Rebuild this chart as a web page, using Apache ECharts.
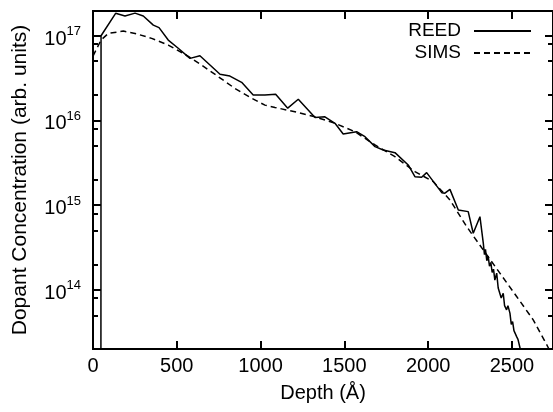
<!DOCTYPE html>
<html>
<head>
<meta charset="utf-8">
<script src="https://cdn.jsdelivr.net/npm/echarts@6/dist/echarts.min.js"></script>
<style>html,body{margin:0;padding:0;background:#fff}#c{width:553px;height:412px}</style>
</head>
<body>
<div id="c"></div>
<script>
// Depth (Å) vs dopant concentration (arb. units)
const xTicks = [0, 500, 1000, 1500, 2000, 2500];
const yMajorTicks = [1e14, 1e15, 1e16, 1e17];
const yMinorTicks = [5e13, 8e13, 2e14, 5e14, 8e14, 2e15, 5e15, 8e15, 2e16, 5e16, 8e16];
const xMin = 0, xMax = 2745, xStep = 500;
const yMin = 2e13, yMax = 1.95e17;

const reedDepth = [47, 48, 135, 191, 251, 300, 360, 394, 449, 505, 579, 638, 698, 758, 817, 887, 956, 1026, 1090, 1162, 1225, 1325, 1384, 1444, 1493, 1573, 1623, 1683, 1732, 1802, 1881, 1921, 1961, 1991, 2081, 2100, 2130, 2180, 2239, 2269, 2309, 2329, 2336, 2342, 2350, 2358, 2366, 2374, 2382, 2390, 2398, 2409, 2418, 2428, 2436, 2448, 2456, 2468, 2476, 2488, 2496, 2504, 2512, 2520, 2528, 2536, 2548, 2555];
const reedConc = [1e12, 9.95e16, 1.83e17, 1.70e17, 1.84e17, 1.70e17, 1.33e17, 1.24e17, 8.85e16, 7.18e16, 5.38e16, 5.78e16, 4.49e16, 3.49e16, 3.33e16, 2.81e16, 1.99e16, 1.99e16, 2.03e16, 1.39e16, 1.77e16, 1.08e16, 1.10e16, 9.22e15, 6.89e15, 7.34e15, 6.41e15, 4.89e15, 4.47e15, 4.15e15, 2.97e15, 2.16e15, 2.13e15, 2.41e15, 1.40e15, 1.38e15, 1.53e15, 8.75e14, 8.36e14, 4.65e14, 7.29e14, 3.55e14, 2.6e14, 3.0e14, 2.2e14, 2.5e14, 1.9e14, 2.1e14, 1.6e14, 1.75e14, 1.3e14, 1.57e14, 1.05e14, 1.09e14, 8.0e13, 9.1e13, 6.5e13, 5.8e13, 6.5e13, 5.3e13, 3.9e13, 4.2e13, 3.3e13, 3.4e13, 2.8e13, 2.6e13, 2.07e13, 1.5e13];

const simsDepth = [0, 48, 91, 181, 251, 350, 449, 549, 648, 748, 847, 947, 1026, 1086, 1205, 1325, 1444, 1563, 1683, 1802, 1921, 2030, 2130, 2230, 2329, 2428, 2528, 2627, 2717, 2745];
const simsConc = [5.73e16, 8.85e16, 1.06e17, 1.13e17, 1.06e17, 9.27e16, 7.73e16, 6.0e16, 4.49e16, 3.27e16, 2.38e16, 1.82e16, 1.51e16, 1.42e16, 1.26e16, 1.10e16, 9.22e15, 7.34e15, 5.12e15, 3.72e15, 2.48e15, 1.89e15, 1.15e15, 5.56e14, 2.95e14, 1.57e14, 8.32e13, 4.42e13, 2.07e13, 1.6e13];

const FONT = 'Liberation Sans, Arial, Helvetica, sans-serif';
const zip = (a, b) => a.map((v, i) => [v, b[i]]);

function logAxis(position, ticks, len, withLabels) {
  return {
    type: 'log', position: position, min: yMin, max: yMax, logBase: 10,
    axisLine: { show: true, lineStyle: { color: '#000', width: 2 } },
    axisTick: { show: true, inside: true, length: len, lineStyle: { color: '#000', width: 2 }, customValues: ticks },
    splitLine: { show: false },
    axisLabel: withLabels ? {
      show: true, margin: 12, customValues: ticks, color: '#000',
      formatter: function (v) {
        const e = Math.round(Math.log10(v));
        return '{b|10}{s|' + e + '}';
      },
      rich: {
        b: { fontSize: 20, fontFamily: FONT, color: '#000', padding: [7, 0, 0, 0] },
        s: { fontSize: 13, fontFamily: FONT, color: '#000', padding: [0, 0, 8, 0] }
      }
    } : { show: false }
  };
}

const chart = echarts.init(document.getElementById('c'), null, { renderer: 'canvas' });
chart.setOption({
  animation: false,
  backgroundColor: '#fff',
  grid: { left: 93, right: 0, top: 11, bottom: 63, containLabel: false },
  legend: {
    data: ['REED', 'SIMS'],
    orient: 'vertical', align: 'right', right: 16, top: 16,
    itemWidth: 57, itemHeight: 14, itemGap: 2,
    itemStyle: { opacity: 0, color: 'rgba(0,0,0,0)', borderWidth: 0 },
    textStyle: { fontSize: 19, fontFamily: FONT, color: '#000', padding: [0, 8, 0, 0], lineHeight: 20 },
    selectedMode: false
  },
  xAxis: [
    {
      type: 'value', position: 'bottom', min: xMin, max: xMax, interval: xStep,
      name: 'Depth (Å)', nameLocation: 'middle', nameGap: 34,
      nameTextStyle: { fontSize: 20, fontFamily: FONT, color: '#000' },
      axisLine: { show: true, onZero: false, lineStyle: { color: '#000', width: 2 } },
      axisTick: { show: true, inside: true, length: 8, lineStyle: { color: '#000', width: 2 } },
      splitLine: { show: false },
      axisLabel: { show: true, margin: 7, fontSize: 20, fontFamily: FONT, color: '#000', showMaxLabel: false,
        formatter: v => (xTicks.indexOf(v) >= 0 ? String(v) : '') }
    },
    {
      type: 'value', position: 'top', min: xMin, max: xMax, interval: xStep,
      axisLine: { show: true, onZero: false, lineStyle: { color: '#000', width: 2 } },
      axisTick: { show: true, inside: true, length: 8, lineStyle: { color: '#000', width: 2 } },
      splitLine: { show: false }, axisLabel: { show: false }
    }
  ],
  yAxis: [
    Object.assign(logAxis('left', yMajorTicks, 8, true), {
      name: 'Dopant Concentration (arb. units)', nameLocation: 'middle', nameGap: 62,
      nameTextStyle: { fontSize: 21, fontFamily: FONT, color: '#000' }
    }),
    logAxis('left', yMinorTicks, 5, false),
    logAxis('right', yMajorTicks, 8, false),
    logAxis('right', yMinorTicks, 5, false)
  ],
  series: [
    {
      name: 'REED', type: 'line', data: zip(reedDepth, reedConc), xAxisIndex: 0, yAxisIndex: 0,
      symbol: 'none', showSymbol: false, clip: true,
      lineStyle: { color: '#000', width: 1.5, type: 'solid' }, itemStyle: { color: '#000' }
    },
    {
      name: 'SIMS', type: 'line', data: zip(simsDepth, simsConc), xAxisIndex: 0, yAxisIndex: 0,
      symbol: 'none', showSymbol: false, clip: true,
      lineStyle: { color: '#000', width: 1.5, type: [6, 4] }, itemStyle: { color: '#000' }
    }
  ]
});
</script>
</body>
</html>
